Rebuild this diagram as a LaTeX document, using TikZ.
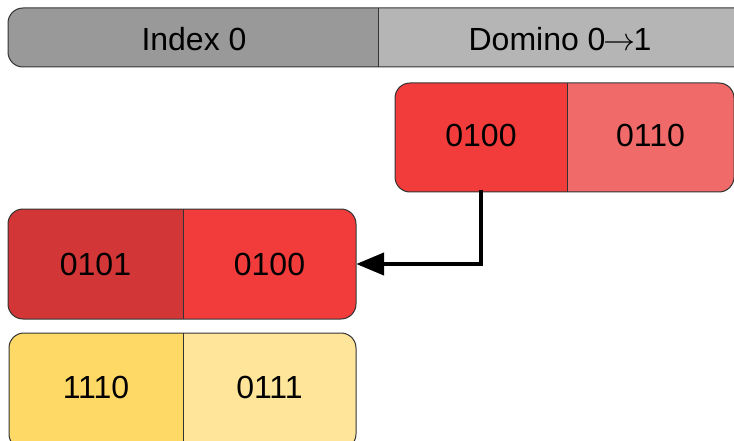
\documentclass[tikz,border=0pt]{standalone}
\usepackage{fix-cm}
\usepackage{fontspec}
\setmainfont{Liberation Sans}
\usetikzlibrary{arrows.meta}
\definecolor{greyL}{HTML}{999999}
\definecolor{greyR}{HTML}{B5B5B5}
\definecolor{redA}{HTML}{F23C3C}
\definecolor{redD}{HTML}{D33636}
\definecolor{redL}{HTML}{F06A6A}
\definecolor{yelA}{HTML}{FFD966}
\definecolor{yelL}{HTML}{FFE599}
\definecolor{edge}{HTML}{333333}
\tikzset{
  cell/.style={inner sep=0pt, font=\fontsize{32}{36}\selectfont},
  outline/.style={draw=edge, line width=1pt, rounded corners=15pt},
  divider/.style={draw=edge, line width=1pt},
  link/.style={line width=4.5pt, -{Triangle[length=28pt,width=22pt]}}
}
% #1 x1, #2 y1, #3 xm, #4 x2, #5 y2, #6 left colour, #7 right colour
\newcommand{\dombg}[7]{%
  \begin{scope}
    \clip[rounded corners=15pt] (#1,#2) rectangle (#4,#5);
    \fill[#6] (#1,#2) rectangle (#3,#5);
    \fill[#7] (#3,#2) rectangle (#4,#5);
  \end{scope}
  \path[outline] (#1,#2) rectangle (#4,#5);
  \path[divider] (#3,#2) -- (#3,#5);
}
\begin{document}
\begin{tikzpicture}[x=1pt,y=-1pt]
\useasboundingbox (0,0) rectangle (734,441);
\begin{scope}
\clip (0,0) rectangle (734,441);
% header
\dombg{8}{8}{378}{760}{67}{greyL}{greyR}
\node[cell] (hIndex) at (194,39) {Index 0};
\node[cell] (hDomino) at (560,39) {Domino 0\kern-2pt$\rightarrow$\kern-2pt1};
% top right box
\dombg{395}{83}{567}{734}{192}{redA}{redL}
\node[cell, minimum width=172pt, minimum height=109pt] (trL) at (481,135) {0100};
\node[cell] (trR) at (650.5,135) {0110};
% middle left box
\dombg{8}{209}{183}{356}{319}{redD}{redA}
\node[cell] (mlL) at (95.5,264) {0101};
\node[cell, minimum width=173pt, minimum height=110pt] (mlR) at (269.5,264) {0100};
% yellow box
\dombg{9}{333}{183}{356}{449}{yelA}{yelL}
\node[cell] (ylL) at (96,387) {1110};
\node[cell] (ylR) at (269.5,387) {0111};
% connector
\draw[link] (trL.south) |- (mlR.east);
\end{scope}
\end{tikzpicture}
\end{document}
